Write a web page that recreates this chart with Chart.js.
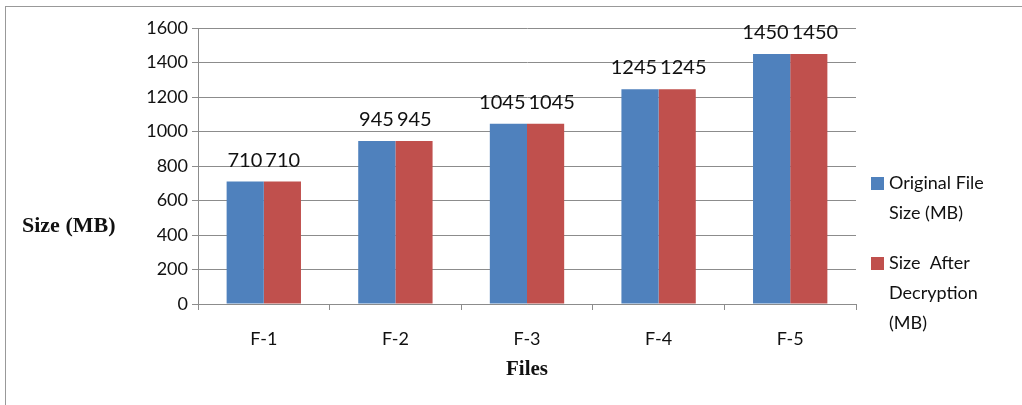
<!DOCTYPE html>
<html>
<head>
<meta charset="utf-8">
<script src="https://cdn.jsdelivr.net/npm/chart.js@4/dist/chart.umd.min.js"></script>
<style>
  html, body { margin: 0; padding: 0; background: #fff; }
  #wrap { width: 1022px; height: 405px; position: relative; }
</style>
</head>
<body>
<div id="wrap"><canvas id="size-chart"></canvas></div>
<script>
const files = ['F-1', 'F-2', 'F-3', 'F-4', 'F-5'];
const originalSize = [710, 945, 1045, 1245, 1450];
const decryptedSize = [710, 945, 1045, 1245, 1450];
const seriesNames = [['Original File', 'Size (MB)'], ['Size  After', 'Decryption', '(MB)']];

const font = "Lato, 'Open Sans', sans-serif";
const serif = '"Liberation Serif", serif';
const gridColor = '#8c8c8c';

// bar value labels, horizontal y title, legend and frame
const extras = {
    id: 'extras',
    beforeDraw(chart) {
        const ctx = chart.ctx;
        ctx.save();
        ctx.strokeStyle = '#999';
        ctx.lineWidth = 1;
        ctx.strokeRect(5.5, 6.5, 1100, 500);
        ctx.restore();
    },
    afterDraw(chart) {
        const ctx = chart.ctx;
        ctx.save();
        ctx.fillStyle = '#111';
        ctx.font = '20px ' + font;
        ctx.textAlign = 'center';
        ctx.textBaseline = 'alphabetic';
        const n = chart.data.datasets.length;
        chart.data.datasets.forEach((ds, i) => {
            chart.getDatasetMeta(i).data.forEach((bar, j) => {
                const txt = String(ds.data[j]);
                // push neighbouring labels apart when they would collide
                const overlap = ctx.measureText(txt).width + 3 - bar.width;
                const shift = overlap > 0 ? (i - (n - 1) / 2) * overlap : 0;
                ctx.fillText(txt, bar.x + shift, bar.y - 15);
            });
        });

        ctx.font = 'bold 22px ' + serif;
        ctx.textAlign = 'left';
        ctx.textBaseline = 'middle';
        ctx.fillText('Size (MB)', 22, 226);

        // legend
        ctx.font = '18px ' + font;
        const starts = [183, 263];
        chart.data.datasets.forEach((ds, i) => {
            const y = starts[i];
            ctx.fillStyle = ds.backgroundColor;
            ctx.fillRect(871, y - 6, 13, 13);
            ctx.fillStyle = '#111';
            seriesNames[i].forEach((line, k) => {
                ctx.fillText(line, 889, y + k * 30);
            });
        });
        ctx.restore();
    }
};

new Chart(document.getElementById('size-chart'), {
    type: 'bar',
    data: {
        labels: files,
        datasets: [
            { label: 'Original File Size (MB)', data: originalSize, backgroundColor: '#4f81bd' },
            { label: 'Size After Decryption (MB)', data: decryptedSize, backgroundColor: '#c0504d' }
        ]
    },
    options: {
        responsive: true,
        maintainAspectRatio: false,
        animation: false,
        layout: { padding: { left: 118, right: 166, top: 28, bottom: 23 } },
        datasets: { bar: { categoryPercentage: 0.565, barPercentage: 1.0 } },
        plugins: { legend: { display: false }, tooltip: { enabled: false } },
        scales: {
            x: {
                grid: { drawOnChartArea: false, color: gridColor, tickLength: 6, offset: true },
                border: { color: gridColor },
                ticks: { color: '#111', font: { family: font, size: 18 }, padding: 18 },
                title: {
                    display: true, text: 'Files', color: '#111',
                    font: { family: serif, size: 21, weight: 'bold' },
                    padding: { top: 8, bottom: 0 }
                },
                afterFit(scale) { scale.height = 78; }
            },
            y: {
                min: 0, max: 1600,
                grid: { color: gridColor, tickLength: 6 },
                border: { color: gridColor },
                ticks: {
                    stepSize: 200, color: '#111', font: { family: font, size: 18 }, padding: 4,
                    callback: v => String(v)
                },
                afterFit(scale) { scale.width = 80; }
            }
        }
    },
    plugins: [extras]
});
</script>
</body>
</html>
